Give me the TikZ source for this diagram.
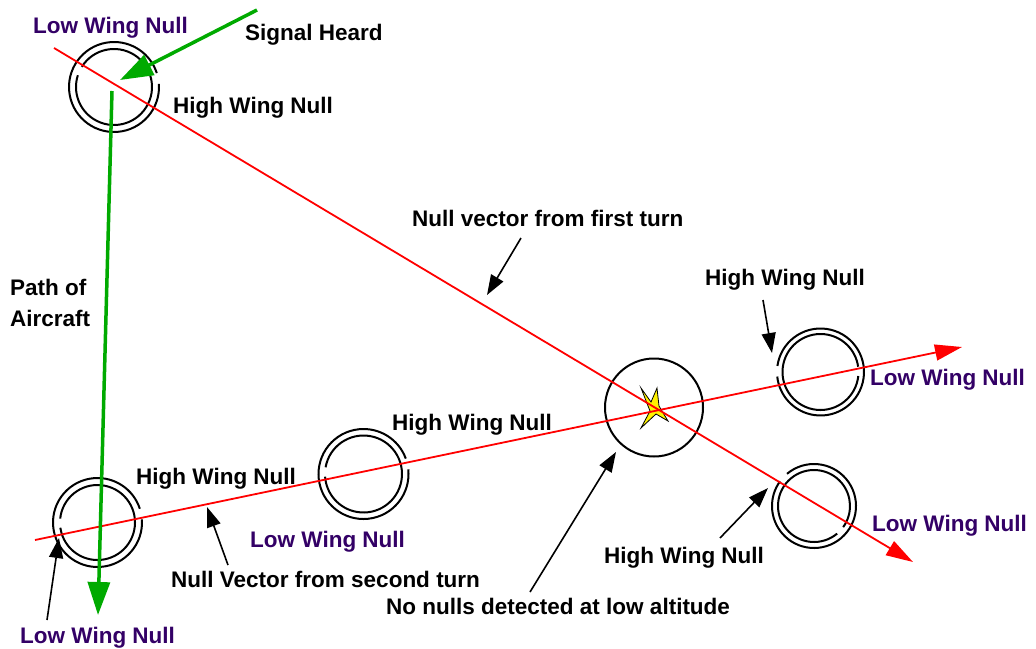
\documentclass[tikz,border=0pt]{standalone}
\usepackage{fontspec}
\setmainfont{Liberation Sans}
\usetikzlibrary{arrows.meta}
\definecolor{lowc}{RGB}{51,0,102}
\definecolor{grn}{RGB}{0,170,0}
\newcommand\ringsym[7]{%
  \draw[ring] ([shift={(#4:#2)}]#1) arc[start angle=#4, end angle=#5, radius=#2];
  \draw[ring] ([shift={(#6:#3)}]#1) arc[start angle=#6, end angle=#7, radius=#3];}
\begin{document}
\begin{tikzpicture}[x=1pt,y=-1pt,
  lbl/.style={font=\fontsize{22.5}{31}\selectfont\bfseries, inner sep=0pt, anchor=base west},
  low/.style={lbl, text=lowc},
  ring/.style={line width=2pt},
  redv/.style={draw=red, line width=1.8pt, -{Triangle[length=27pt,width=16pt]}},
  grnv/.style={draw=grn, line width=3.5pt, -{Triangle[length=33pt,width=22pt]}},
  blk/.style={draw=black, line width=1.6pt, -{Triangle[length=20pt,width=14pt]}},
]
\useasboundingbox (0,0) rectangle (1036,648);

% ring centres
\coordinate (cTL) at (114,87);
\coordinate (cBL) at (97.5,522.5);
\coordinate (cM) at (363.5,474);
\coordinate (cRU) at (820.5,372);
\coordinate (cRL) at (814,506);
\coordinate (cX) at (654,407.5);

\ringsym{cTL}{45}{38}{-4}{342}{212}{558}
\ringsym{cBL}{44.5}{37.5}{-4}{342}{186}{532}
\ringsym{cM}{45}{38.5}{-6}{340}{190}{536}
\ringsym{cRU}{43.5}{38}{188}{534}{6}{352}
\ringsym{cRL}{42}{36}{230}{576}{50}{396}
\draw[ring] (cX) circle[radius=49];

% star
\draw[fill=yellow, line width=0.8pt, line join=miter]
  (641,388) -- (651,402) -- (657,388) -- (659,406) -- (668,421) -- (656,414)
  -- (641,428) -- (650,411) -- cycle;

% red null vectors
\coordinate (r1a) at (54,48);   \coordinate (r1b) at (913,562);
\coordinate (r2a) at (35,540);  \coordinate (r2b) at (962,347);
\draw[redv] (r1a) -- (r1b);
\draw[redv] (r2a) -- (r2b);

% green
\coordinate (g1a) at (257,10);  \coordinate (g1b) at (120,80);
\coordinate (g2a) at (112,91);  \coordinate (g2b) at (98,615);
\draw[grnv] (g1a) -- (g1b);
\draw[grnv] (g2a) -- (g2b);

% labels
\node[low] (lTL) at (33,33) {Low Wing Null};
\node[lbl] (sig) at (245,40) {Signal Heard};
\node[lbl] (hTL) at (173,113) {High Wing Null};
\node[lbl] (nv1) at (412,226) {Null vector from first turn};
\node[lbl] (hRU) at (705,285) {High Wing Null};
\node[lbl, align=left] (path) at (10,326) {Path of\\Aircraft};
\node[low] (lRU) at (870,385) {Low Wing Null};
\node[lbl] (hM) at (392,430) {High Wing Null};
\node[lbl] (hBL) at (136,484) {High Wing Null};
\node[low] (lM) at (250,547) {Low Wing Null};
\node[low] (lRL) at (872,531) {Low Wing Null};
\node[lbl] (hRL) at (604,563) {High Wing Null};
\node[lbl] (nv2) at (171,587) {Null Vector from second turn};
\node[lbl] (nn) at (386,614) {No nulls detected at low altitude};
\node[low] (lBL) at (20,643) {Low Wing Null};

% black pointer arrows
\coordinate (a1a) at (521,238); \coordinate (a1b) at (487,295);
\coordinate (a2a) at (763,300); \coordinate (a2b) at (772,353);
\coordinate (a3a) at (720,538); \coordinate (a3b) at (768,488);
\coordinate (a4a) at (530,592); \coordinate (a4b) at (616,452);
\coordinate (a5a) at (228,565); \coordinate (a5b) at (207,507);
\coordinate (a6a) at (47,620);  \coordinate (a6b) at (59,538);
\draw[blk] (a1a) -- (a1b);
\draw[blk] (a2a) -- (a2b);
\draw[blk] (a3a) -- (a3b);
\draw[blk] (a4a) -- (a4b);
\draw[blk] (a5a) -- (a5b);
\draw[blk] (a6a) -- (a6b);
\end{tikzpicture}
\end{document}
